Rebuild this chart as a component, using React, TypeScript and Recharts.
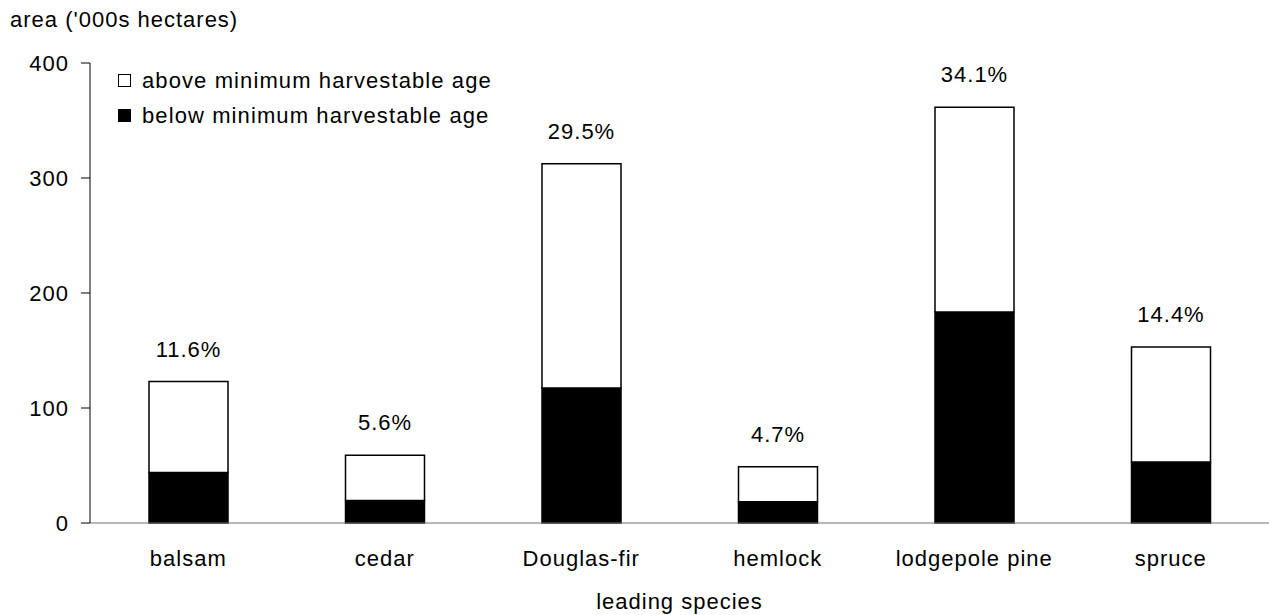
import React from 'react';
import { BarChart, Bar, XAxis, YAxis, Legend, LabelList } from 'recharts';

const FONT = '"Liberation Sans", Arial, sans-serif';

const categories = ['balsam', 'cedar', 'Douglas-fir', 'hemlock', 'lodgepole pine', 'spruce'];
const belowMinAge = [44, 19.5, 117.5, 18.5, 183.5, 53];
const aboveMinAge = [79, 39.5, 195, 30.5, 178, 100];
const shareLabels = ['11.6%', '5.6%', '29.5%', '4.7%', '34.1%', '14.4%'];
const yTicks = [0, 100, 200, 300, 400];

const data = categories.map((species, i) => ({
  species,
  below: belowMinAge[i],
  above: aboveMinAge[i],
  share: shareLabels[i],
}));

const textStyle = { fill: '#000', fontSize: 22, fontFamily: FONT, letterSpacing: 1 };

const legendItems = [
  { label: 'above minimum harvestable age', color: '#fff' },
  { label: 'below minimum harvestable age', color: '#000' },
];

const renderLegend = () => (
  <div style={{ fontFamily: FONT, fontSize: 22, letterSpacing: 1.1, color: '#000' }}>
    {legendItems.map((item) => (
      <div key={item.label} style={{ display: 'flex', alignItems: 'center', height: 35 }}>
        <span
          style={{
            display: 'inline-block',
            width: 11,
            height: 11,
            border: '1px solid #000',
            background: item.color,
            marginRight: 11,
          }}
        />
        <span>{item.label}</span>
      </div>
    ))}
  </div>
);

const App: React.FC = () => {
  return (
    <div style={{ position: 'absolute', left: 0, top: 0, width: 1269, height: 615, background: '#fff' }}>
      <BarChart
        width={1269}
        height={615}
        data={data}
        margin={{ top: 63, right: 0, bottom: 0, left: 0 }}
        barSize={79}
      >
        <XAxis
          dataKey="species"
          height={92}
          interval={0}
          tickLine={false}
          tickSize={0}
          tickMargin={27}
          axisLine={{ stroke: '#707070' }}
          tick={textStyle}
          label={{ value: 'leading species', position: 'insideBottom', offset: 6, ...textStyle }}
        />
        <YAxis
          width={90}
          domain={[0, 400]}
          ticks={yTicks}
          tickSize={9}
          tickMargin={12}
          axisLine={{ stroke: '#000' }}
          tickLine={{ stroke: '#000' }}
          tick={textStyle}
          label={{
            content: () => (
              <text x={10} y={27} fill="#000" fontSize={22} fontFamily={FONT} letterSpacing={1}>
                area ('000s hectares)
              </text>
            ),
          }}
        />
        <Legend
          content={renderLegend}
          layout="horizontal"
          verticalAlign="middle"
          align="center"
          wrapperStyle={{ top: 63, left: 118, width: 'auto', height: 'auto' }}
        />
        <Bar dataKey="below" stackId="a" fill="#000" stroke="#000" strokeWidth={1.5} isAnimationActive={false} />
        <Bar dataKey="above" stackId="a" fill="#fff" stroke="#000" strokeWidth={1.5} isAnimationActive={false}>
          <LabelList dataKey="share" position="top" offset={25} {...textStyle} />
        </Bar>
      </BarChart>
    </div>
  );
};

export default App;
